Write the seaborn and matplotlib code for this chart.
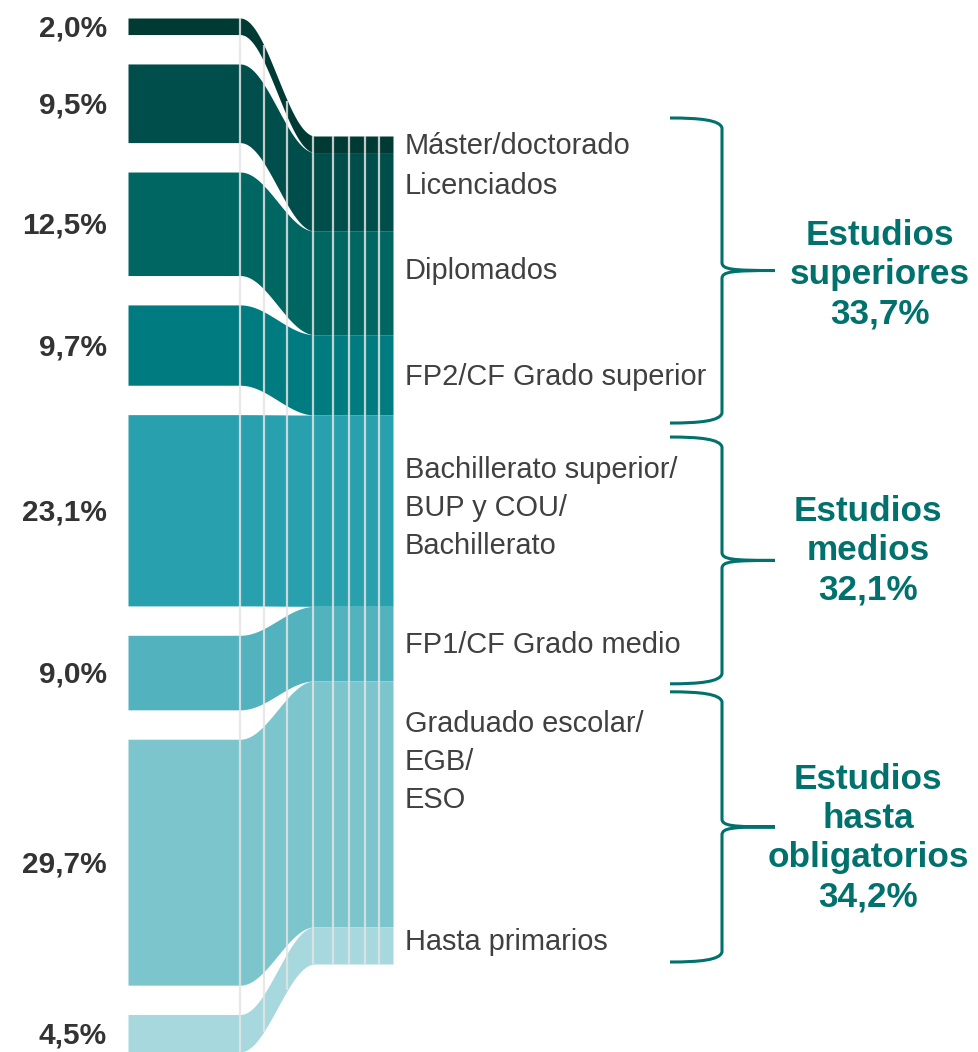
import numpy as np
import seaborn as sns
import matplotlib.pyplot as plt
from matplotlib.path import Path
from matplotlib.patches import PathPatch
from matplotlib import font_manager

# ---------------- data ----------------
levels = ["Máster/doctorado", "Licenciados", "Diplomados", "FP2/CF Grado superior",
          "Bachillerato superior/\nBUP y COU/\nBachillerato", "FP1/CF Grado medio",
          "Graduado escolar/\nEGB/\nESO", "Hasta primarios"]
shares = [2.0, 9.5, 12.5, 9.7, 23.1, 9.0, 29.7, 4.5]
share_labels = ["2,0%", "9,5%", "12,5%", "9,7%", "23,1%", "9,0%", "29,7%", "4,5%"]
colors = ["#003a35", "#004e4b", "#006662", "#007c80", "#29a0ad", "#52b2bd", "#7cc5cd", "#a6d8de"]

groups = ["Estudios\nsuperiores\n33,7%", "Estudios\nmedios\n32,1%", "Estudios\nhasta\nobligatorios\n34,2%"]
group_size = [4, 2, 2]  # number of levels in each group

# ---------------- layout (pixels) ----------------
W, H = 979, 1052
scale = 8.28          # px per percentage point
gap = 29.4
left_top, right_top = 18, 136
x_bar0, x_bar1 = 128, 240
x_stk0, x_stk1 = 315, 393
teal = "#00716c"
grey_txt = "#404040"

sns.set_theme(style="white")
names = {f.name for f in font_manager.fontManager.ttflist}
plt.rcParams['font.family'] = ['Liberation Sans', 'DejaVu Sans']
narrow = 'Liberation Sans Narrow' if 'Liberation Sans Narrow' in names else 'Liberation Sans'
gsize = 27.5 if narrow == 'Liberation Sans Narrow' else 25.3

fig = plt.figure(figsize=(W / 100, H / 100), dpi=100)
ax = fig.add_axes([0, 0, 1, 1])
ax.set_xlim(0, W)
ax.set_ylim(H, 0)
ax.axis("off")

vals = np.array(shares)
cum = np.concatenate([[0], np.cumsum(vals)])
idx = np.arange(len(vals))
lt = left_top + cum[:-1] * scale + idx * gap
lb = lt + vals * scale
rt = right_top + cum[:-1] * scale
rb = rt + vals * scale

xc = np.linspace(x_bar1, x_stk0, 80)
s = (1 - np.cos(np.pi * (xc - x_bar1) / (x_stk0 - x_bar1))) / 2
xs = np.concatenate([[x_bar0], xc, [x_stk1]])


def ribbon(a, b):
    return np.concatenate([[a], a + (b - a) * s, [b]])


tops, bots = [], []
for i in range(len(vals)):
    yt, yb = ribbon(lt[i], rt[i]), ribbon(lb[i], rb[i])
    tops.append(yt)
    bots.append(yb)
    ax.fill_between(xs, yt, yb, color=colors[i], lw=0)
    ax.text(107, (lt[i] + lb[i]) / 2 + 2, share_labels[i], ha="right", va="center",
            fontsize=21.5, fontweight="bold", color="#333333")

# light vertical guide lines
tops, bots = np.array(tops), np.array(bots)
for xv in [240, 264, 287, 313, 333, 349, 365, 379]:
    j = np.argmin(np.abs(xs - xv))
    ax.plot([xv, xv], [tops[:, j].min(), bots[:, j].max()], color="#e4e4e4",
            lw=1.6, alpha=0.85, solid_capstyle="butt")

# level labels
label_dy = [2, -6, -12, 2, -3, 1, -42, -3]
for i, lab in enumerate(levels):
    ax.text(405, (rt[i] + rb[i]) / 2 + label_dy[i], lab, ha="left", va="center",
            fontsize=20.9, color=grey_txt, linespacing=1.46)


def brace(y0, y1, xt=670, xv=722, xm=775):
    ym = (y0 + y1) / 2
    verts = [(xt, y0), (700, y0), (720, y0 + 2), (xv, y0 + 10),
             (xv, ym - 8),
             (xv, ym - 1), (732, ym), (xm, ym),
             (732, ym), (xv, ym + 1), (xv, ym + 8),
             (xv, y1 - 10),
             (720, y1 - 2), (700, y1), (xt, y1)]
    codes = [Path.MOVETO, Path.CURVE4, Path.CURVE4, Path.CURVE4,
             Path.LINETO,
             Path.CURVE4, Path.CURVE4, Path.CURVE4,
             Path.CURVE4, Path.CURVE4, Path.CURVE4,
             Path.LINETO,
             Path.CURVE4, Path.CURVE4, Path.CURVE4]
    ax.add_patch(PathPatch(Path(verts, codes), fill=False, ec=teal, lw=2.2))
    return ym


gcum = np.concatenate([[0], np.cumsum(group_size)])
brace_pad = [(-18, 8), (22, 3), (11, -2)]
group_x = [880, 868, 868]
group_dy = [4, -10, 11]
for g, lab in enumerate(groups):
    y0 = rt[gcum[g]] + brace_pad[g][0]
    y1 = rb[gcum[g + 1] - 1] + brace_pad[g][1]
    ym = brace(y0, y1)
    ax.text(group_x[g], ym + group_dy[g], lab, ha="center", va="center",
            fontsize=gsize, fontweight="bold", color=teal, family=narrow,
            linespacing=1.24)

fig.savefig("out.png", dpi=100)
